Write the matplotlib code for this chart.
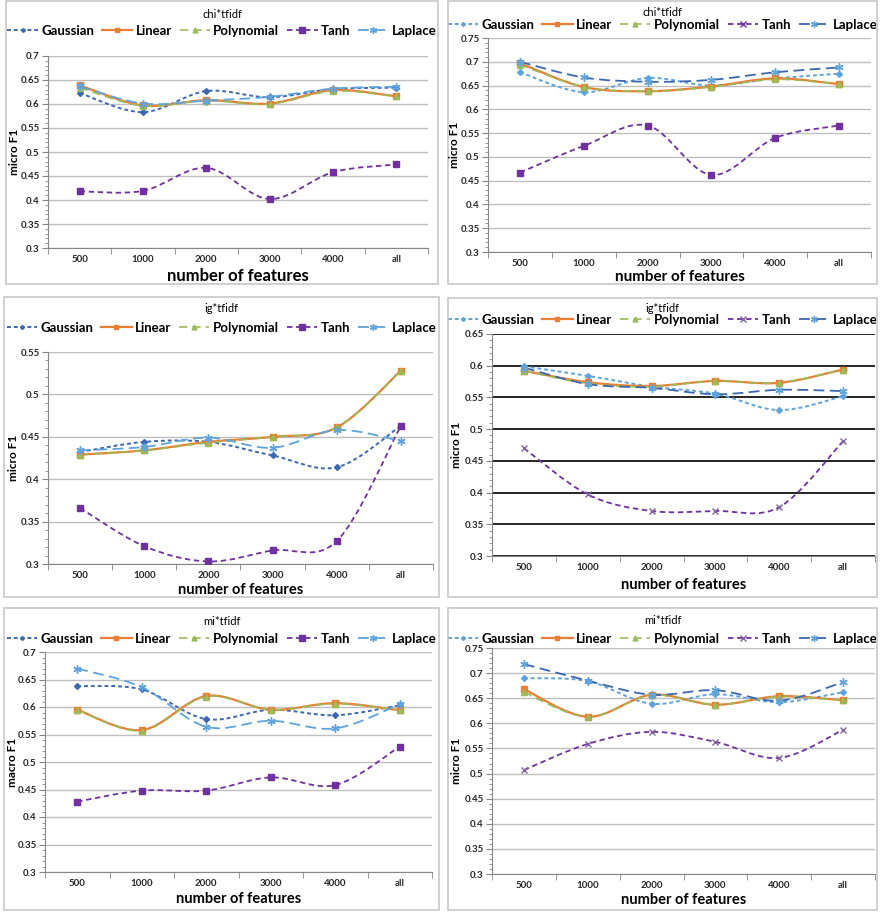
import numpy as np
import matplotlib
matplotlib.use('Agg')
import matplotlib.pyplot as plt
from matplotlib.path import Path
from matplotlib.patches import PathPatch, Rectangle
from matplotlib.lines import Line2D
from matplotlib.ticker import MultipleLocator, FixedLocator

plt.rcParams['font.family'] = ['Lato', 'DejaVu Sans']

###############################################################################
# data
###############################################################################
categories = ['500', '1000', '2000', '3000', '4000', 'all']
series_names = ['Gaussian', 'Linear', 'Polynomial', 'Tanh', 'Laplace']

# chi*tfidf, left
chi_l_gaussian = [0.623, 0.583, 0.627, 0.614, 0.631, 0.634]
chi_l_linear = [0.639, 0.597, 0.608, 0.601, 0.629, 0.616]
chi_l_poly = [0.634, 0.596, 0.607, 0.600, 0.627, 0.616]
chi_l_tanh = [0.418, 0.419, 0.467, 0.402, 0.458, 0.474]
chi_l_laplace = [0.637, 0.601, 0.607, 0.615, 0.632, 0.636]

# chi*tfidf, right
chi_r_gaussian = [0.678, 0.636, 0.666, 0.650, 0.665, 0.675]
chi_r_linear = [0.697, 0.647, 0.638, 0.648, 0.665, 0.653]
chi_r_poly = [0.694, 0.647, 0.638, 0.647, 0.663, 0.653]
chi_r_tanh = [0.467, 0.523, 0.566, 0.462, 0.540, 0.566]
chi_r_laplace = [0.700, 0.667, 0.658, 0.662, 0.678, 0.688]

# ig*tfidf, left
ig_l_gaussian = [0.432, 0.444, 0.444, 0.428, 0.414, 0.463]
ig_l_linear = [0.429, 0.434, 0.444, 0.450, 0.461, 0.528]
ig_l_poly = [0.429, 0.434, 0.443, 0.450, 0.461, 0.528]
ig_l_tanh = [0.366, 0.321, 0.303, 0.316, 0.327, 0.463]
ig_l_laplace = [0.434, 0.438, 0.449, 0.437, 0.458, 0.445]

# ig*tfidf, right
ig_r_gaussian = [0.599, 0.584, 0.567, 0.556, 0.530, 0.552]
ig_r_linear = [0.592, 0.574, 0.568, 0.576, 0.573, 0.594]
ig_r_poly = [0.592, 0.572, 0.567, 0.576, 0.573, 0.594]
ig_r_tanh = [0.470, 0.397, 0.371, 0.371, 0.377, 0.481]
ig_r_laplace = [0.597, 0.571, 0.565, 0.555, 0.562, 0.560]

# mi*tfidf, left (macro F1)
mi_l_gaussian = [0.638, 0.632, 0.578, 0.595, 0.585, 0.603]
mi_l_linear = [0.595, 0.558, 0.620, 0.595, 0.607, 0.594]
mi_l_poly = [0.595, 0.557, 0.619, 0.595, 0.606, 0.594]
mi_l_tanh = [0.428, 0.448, 0.448, 0.472, 0.458, 0.528]
mi_l_laplace = [0.670, 0.636, 0.564, 0.575, 0.561, 0.605]

# mi*tfidf, right
mi_r_gaussian = [0.690, 0.684, 0.639, 0.658, 0.642, 0.662]
mi_r_linear = [0.668, 0.613, 0.657, 0.637, 0.654, 0.646]
mi_r_poly = [0.662, 0.613, 0.656, 0.637, 0.653, 0.646]
mi_r_tanh = [0.507, 0.559, 0.583, 0.563, 0.531, 0.587]
mi_r_laplace = [0.718, 0.685, 0.657, 0.666, 0.645, 0.682]

###############################################################################
# styles
###############################################################################
W, H = 883, 913
dark_blue = '#3b68b0'
light_blue = '#5ea3dc'
orange = '#ed7d31'
green = '#9bbb59'
purple = '#7030a0'
asterisk = (6, 2, 0)

fig = plt.figure(figsize=(W / 100, H / 100), dpi=100)


def smooth_path(xs, ys):
    # excel-like smoothed line: catmull-rom segments as cubic bezier
    pts = np.column_stack([xs, ys]).astype(float)
    n = len(pts)
    verts = [pts[0]]
    codes = [Path.MOVETO]
    for i in range(n - 1):
        p0 = pts[max(i - 1, 0)]
        p1 = pts[i]
        p2 = pts[i + 1]
        p3 = pts[min(i + 2, n - 1)]
        verts += [p1 + (p2 - p0) / 6, p2 - (p3 - p1) / 6, p2]
        codes += [Path.CURVE4] * 3
    return Path(verts, codes)


def fx(px):
    return px / W


def fy(py):
    return 1 - py / H


def panel(box, axbox, ylim, series, styles, title, ylabel, title_y, leg_y,
          xlab_y, ylab_x, grid_color='#bfbfbf', xlab_size=10.5):
    x0, y0, x1, y1 = box
    fig.patches.append(Rectangle((fx(x0), fy(y1)), (x1 - x0) / W, (y1 - y0) / H,
                                 transform=fig.transFigure, fill=False,
                                 ec='#c8c8c8', lw=1.2))
    l, t, r, b = axbox
    ax = fig.add_axes([fx(l), fy(b), (r - l) / W, (b - t) / H])
    xs = np.arange(len(categories))
    handles = []
    for vals, st in zip(series, styles):
        ax.add_patch(PathPatch(smooth_path(xs, vals), fill=False, ec=st['color'],
                               lw=st['lw'], ls=st['ls'], capstyle='butt', zorder=3))
        ax.plot(xs, vals, ls='none', marker=st['marker'], ms=st['ms'],
                color=st['mcolor'], mec=st['mcolor'], mew=st.get('mew', 1), zorder=4)
        handles.append(Line2D([], [], color=st['color'], lw=st['lw'], ls=st['ls'],
                              marker=st.get('lmarker', st['marker']), ms=st['ms'] - 1,
                              mfc=st['mcolor'], mec=st['mcolor'], mew=st.get('mew', 1)))
    ax.set_xlim(-0.5, len(categories) - 0.5)
    ax.set_ylim(*ylim)
    ax.yaxis.set_major_locator(MultipleLocator(0.05))
    ax.yaxis.set_minor_locator(MultipleLocator(0.01))
    ax.set_yticklabels([('%.2f' % v).rstrip('0').rstrip('.') for v in ax.get_yticks()])
    ax.set_xticks(xs)
    ax.set_xticklabels(categories)
    ax.xaxis.set_minor_locator(FixedLocator(np.arange(-0.5, len(categories), 1.0)))
    ax.tick_params(axis='x', which='major', length=0, pad=5)
    ax.tick_params(axis='x', which='minor', length=4, color='#868686')
    ax.tick_params(axis='y', which='major', length=4, color='#868686', pad=2)
    ax.tick_params(axis='y', which='minor', length=2, color='#868686')
    for lab in ax.get_xticklabels() + ax.get_yticklabels():
        lab.set_fontsize(7)
        lab.set_fontweight('bold')
        lab.set_color('#262626')
    ax.grid(axis='y', which='major', color=grid_color, lw=1.0 if grid_color != 'black' else 1.2)
    ax.set_axisbelow(True)
    for side in ['top', 'right']:
        ax.spines[side].set_visible(False)
    for side in ['left', 'bottom']:
        ax.spines[side].set_color('#868686')
    cx = (x0 + x1) / 2
    fig.text(fx(cx), fy(title_y), title, ha='center', va='center', fontsize=8)
    ax.legend(handles, series_names, loc='center', bbox_to_anchor=(fx(cx), fy(leg_y)),
              bbox_transform=fig.transFigure, ncol=5, frameon=False,
              prop={'size': 9.5, 'weight': 'bold'}, handlelength=2.3,
              handletextpad=0.25, columnspacing=0.6, borderpad=0, borderaxespad=0)
    fig.text(fx((l + r) / 2), fy(xlab_y), 'number of features', ha='center',
             va='center', fontsize=xlab_size, fontweight='bold')
    fig.text(fx(ylab_x), fy((t + b) / 2), ylabel, ha='center', va='center',
             rotation=90, fontsize=8.5, fontweight='bold')
    return ax


def styles_for(side, tanh_marker='s'):
    gcol = dark_blue if side == 'left' else light_blue
    lcol = light_blue if side == 'left' else dark_blue
    return [
        dict(color=gcol, mcolor=gcol, lw=1.4, ls=(0, (2, 1.5)), marker='D', ms=3),
        dict(color=orange, mcolor=orange, lw=1.6, ls='-', marker='s', ms=4.5),
        dict(color=green, mcolor=green, lw=1.2, ls=(0, (5, 3)), marker='^', ms=4.5),
        dict(color=purple, mcolor=purple if tanh_marker == 's' else '#8064a2',
             lw=1.3, ls=(0, (3, 2)), marker=tanh_marker, ms=5,
             lmarker='s' if side == 'left' else 'x'),
        dict(color=lcol, mcolor=light_blue, lw=1.3, ls=(0, (6, 3)), marker=asterisk,
             ms=6),
    ]


panel((6, 1, 438, 284), (48, 56, 428, 248), (0.3, 0.7),
      [chi_l_gaussian, chi_l_linear, chi_l_poly, chi_l_tanh, chi_l_laplace],
      styles_for('left'), 'chi*tfidf', 'micro F1', 14, 31, 276, 15, xlab_size=12)
panel((448, 1, 877, 284), (488, 38, 871, 252), (0.3, 0.75),
      [chi_r_gaussian, chi_r_linear, chi_r_poly, chi_r_tanh, chi_r_laplace],
      styles_for('right', 's'), 'chi*tfidf', 'micro F1', 13, 25, 277, 455, xlab_size=11)
panel((4, 297, 439, 597), (48, 352, 433, 564), (0.3, 0.55),
      [ig_l_gaussian, ig_l_linear, ig_l_poly, ig_l_tanh, ig_l_laplace],
      styles_for('left'), 'ig*tfidf', 'micro F1', 308, 328, 590, 14)
panel((448, 298, 877, 597), (492, 334, 875, 556), (0.3, 0.65),
      [ig_r_gaussian, ig_r_linear, ig_r_poly, ig_r_tanh, ig_r_laplace],
      styles_for('right', 'x'), 'ig*tfidf', 'micro F1', 308, 320, 585, 456,
      grid_color='black')
panel((4, 608, 439, 910), (45, 652, 432, 872), (0.3, 0.7),
      [mi_l_gaussian, mi_l_linear, mi_l_poly, mi_l_tanh, mi_l_laplace],
      styles_for('left'), 'mi*tfidf', 'macro F1', 621, 639, 899, 13)
panel((448, 608, 877, 910), (492, 648, 875, 874), (0.3, 0.75),
      [mi_r_gaussian, mi_r_linear, mi_r_poly, mi_r_tanh, mi_r_laplace],
      styles_for('right', 'x'), 'mi*tfidf', 'micro F1', 620, 639, 900, 456)

plt.savefig('out.png', dpi=100)
